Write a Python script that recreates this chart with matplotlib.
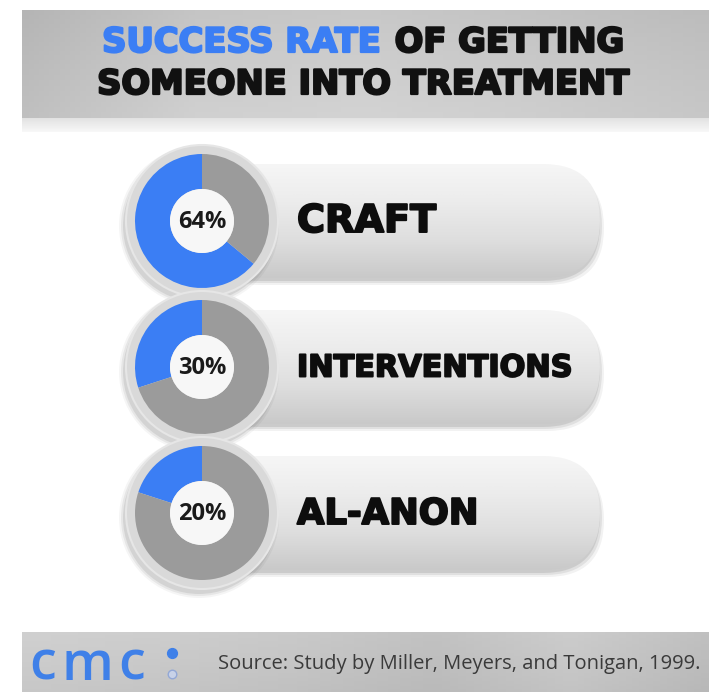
import numpy as np
import matplotlib
matplotlib.use("Agg")
import matplotlib.pyplot as plt
import matplotlib.patheffects as pe
from matplotlib.patches import FancyBboxPatch, Circle
from matplotlib.offsetbox import TextArea, HPacker, AnnotationBbox
from matplotlib.colors import LinearSegmentedColormap

# ---- data ----
categories = ["CRAFT", "INTERVENTIONS", "AL-ANON"]
success_rates = [64, 30, 20]
title_highlight = "SUCCESS RATE"
title_rest_1 = "OF GETTING"
title_line_2 = "SOMEONE INTO TREATMENT"
source_text = "Source: Study by Miller, Meyers, and Tonigan, 1999."
brand = "cmc"

# ---- style ----
W, H = 709, 692
BLUE = "#3b7ef4"
RING_GRAY = "#9b9b9b"
label_sizes = [27.5, 21.8, 25.5]
HEAVY = ["DejaVu Sans"]
stroke_dark = [pe.withStroke(linewidth=1.6, foreground="#111111")]
stroke_blue = [pe.withStroke(linewidth=1.6, foreground=BLUE)]

fig = plt.figure(figsize=(W / 100, H / 100), dpi=100)
ax = fig.add_axes([0, 0, 1, 1])


def Y(p):
    return H - p


def gradient_rect(x0, y0, x1, y1, colors, vertical=True, clip=None, z=1, alpha=1.0):
    cmap = LinearSegmentedColormap.from_list("g", colors)
    g = np.linspace(0, 1, 256)
    img = g[:, None] if vertical else g[None, :]
    im = ax.imshow(img, cmap=cmap, extent=(x0, x1, Y(y1), Y(y0)), origin="upper",
                   aspect="auto", zorder=z, alpha=alpha, interpolation="bicubic")
    if clip is not None:
        im.set_clip_path(clip)
    return im


# header band
gradient_rect(22, 10, W, 118, ["#bcbcbc", "#c8c8c8", "#d2d2d2"], z=1)
gradient_rect(22, 10, W, 118, ["#aeaeae", "#cfcfcf", "#d6d6d6", "#cbcbcb", "#bdbdbd"],
              vertical=False, z=1, alpha=0.5)
gradient_rect(22, 118, W, 132, ["#e2e2e2", "#f8f8f8"], z=1)

# footer band
gradient_rect(22, 632, W, H, ["#d2d2d2", "#c8c8c8", "#bdbdbd"], z=1)
gradient_rect(22, 632, W, H, ["#d0d0d0", "#cbcbcb", "#c4c4c4", "#b8b8b8", "#c9c9c9", "#b5b5b5"],
              vertical=False, z=1, alpha=0.6)

# title
tp_blue = dict(color=BLUE, fontsize=24.3, fontweight="bold", family=HEAVY, path_effects=stroke_blue)
tp_dark = dict(color="#111111", fontsize=24.3, fontweight="bold", family=HEAVY,
               path_effects=stroke_dark)
line1 = HPacker(children=[TextArea(title_highlight, textprops=tp_blue),
                          TextArea(title_rest_1, textprops=tp_dark)],
                align="baseline", pad=0, sep=10)
ax.add_artist(AnnotationBbox(line1, (363, Y(42.5)), frameon=False, box_alignment=(0.5, 0.5),
                             zorder=5))
ax.text(363, Y(84.5), title_line_2, ha="center", va="center", zorder=5, **tp_dark)

# rows
centers_y = [221, 367, 513]
cx = 202
r_outer = 67
r_hole = 32
pill_h = 114
pill_x1 = 600

for i, (cat, val) in enumerate(zip(categories, success_rates)):
    cy = centers_y[i]
    for k, a in enumerate([0.05, 0.07, 0.09]):
        ax.add_patch(FancyBboxPatch((cx, Y(cy + pill_h / 2) - 7 + k * 2), pill_x1 - cx + 4 - k * 2,
                                    pill_h, boxstyle=f"round,pad=0,rounding_size={pill_h/2}",
                                    fc="#000000", ec="none", alpha=a, zorder=2))
    pill = FancyBboxPatch((cx, Y(cy + pill_h / 2)), pill_x1 - cx, pill_h,
                          boxstyle=f"round,pad=0,rounding_size={pill_h/2}",
                          fc="none", ec="none", zorder=3)
    ax.add_patch(pill)
    gradient_rect(cx, cy - pill_h / 2, pill_x1, cy + pill_h / 2,
                  ["#f6f6f6", "#ececec", "#dedede", "#c9c9c9"], clip=pill, z=3)
    for k, a in enumerate([0.04, 0.06, 0.08]):
        ax.add_patch(Circle((cx - 3, Y(cy) - 5), 80 - k * 2, fc="#000000", ec="none",
                            alpha=a, zorder=4))
    ax.add_patch(Circle((cx, Y(cy)), 76, fc="#d9d9d9", ec="#e6e6e6", lw=1.5, zorder=4))
    ax.pie([val, 100 - val], colors=[BLUE, RING_GRAY], startangle=90, counterclock=True,
           center=(cx, Y(cy)), radius=r_outer, frame=True,
           wedgeprops=dict(width=r_outer - r_hole, edgecolor="none", zorder=5))
    ax.add_patch(Circle((cx, Y(cy)), r_hole, fc="#f7f7f7", ec="none", zorder=6))
    ax.text(cx, Y(cy + 1), f"{val}%", ha="center", va="center", fontsize=17,
            fontweight="bold", family=["Open Sans", "DejaVu Sans"], color="#1a1a1a", zorder=7)
    ax.text(297, Y(cy + 1), cat, ha="left", va="center", fontsize=label_sizes[i],
            fontweight="bold", family=HEAVY, color="#0d0d0d", zorder=7,
            path_effects=[pe.withStroke(linewidth=1.4, foreground="#0d0d0d")])

# footer text: brand letters spread out
for ch, x in zip(brand, [43, 87, 132]):
    ax.text(x, Y(666), ch, ha="center", va="center", fontsize=39, fontweight="semibold",
            family=["Open Sans", "DejaVu Sans"], color="#3f80e8", zorder=5)
ax.scatter([172], [Y(653)], s=50, color="#3f80e8", zorder=5)
ax.scatter([172], [Y(674)], s=38, facecolor="#c8d2e8", edgecolor="#93a8d6", lw=1, zorder=5)
ax.text(218, Y(664), source_text, ha="left", va="center", fontsize=14.5,
        family=["Open Sans", "DejaVu Sans"], color="#3a3a3a", zorder=5)

ax.set_xlim(0, W)
ax.set_ylim(0, H)
ax.set_aspect("auto")
ax.axis("off")
fig.savefig("out.png", dpi=100, facecolor="white")
